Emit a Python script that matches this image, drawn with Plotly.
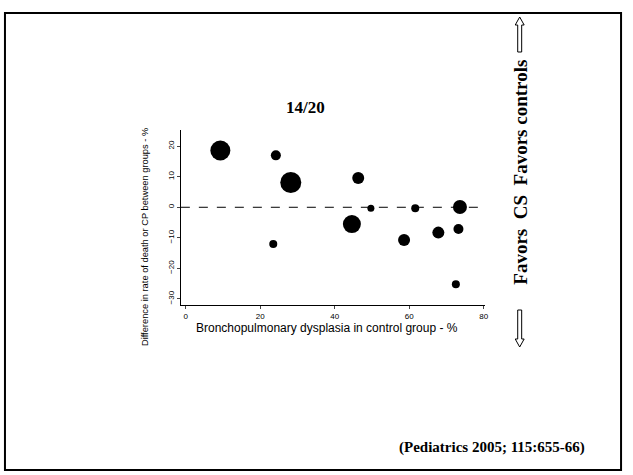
import plotly.graph_objects as go

# Data
bpd_control = [9.3, 24.2, 28.2, 46.3, 49.7, 61.6, 73.6, 44.6, 23.5, 58.6, 67.8, 73.2, 72.5]
diff_death_cp = [18.6, 17.0, 8.1, 9.6, -0.3, -0.3, 0.1, -5.5, -12.0, -10.7, -8.3, -7.1, -25.2]
study_weight = [20, 10, 21, 12, 7, 8, 14, 18, 8, 12, 12, 10, 8]

x_ticks = [0, 20, 40, 60, 80]
y_ticks = [-30, -20, -10, 0, 10, 20]

W, H = 633, 475
def px(x):
    return x / W
def py(y):
    return 1 - y / H

fig = go.Figure()
fig.add_trace(go.Scatter(
    x=bpd_control, y=diff_death_cp, mode="markers",
    marker=dict(size=study_weight, color="black", opacity=1, line=dict(width=0)),
    hoverinfo="x+y", showlegend=False,
))

fig.add_shape(type="line", xref="x domain", yref="y", x0=0, x1=1, y0=0, y1=0,
              line=dict(color="black", width=1, dash="dash"))

fig.update_layout(
    width=W, height=H,
    margin=dict(l=0, r=0, t=0, b=0),
    paper_bgcolor="white", plot_bgcolor="white",
    xaxis=dict(domain=[px(182), px(488)], range=[-1.3, 80.3],
               tickvals=x_ticks, ticks="outside", ticklen=3, showgrid=False,
               zeroline=False, showline=True, linecolor="black", linewidth=1,
               tickfont=dict(family="Liberation Sans", size=8, color="black"),
               anchor="y"),
    yaxis=dict(domain=[py(305), py(130)], range=[-32, 25.3],
               tickvals=y_ticks, ticks="outside", ticklen=3, showgrid=False,
               zeroline=False, showline=True, linecolor="black", linewidth=1,
               tickangle=-90,
               tickfont=dict(family="Liberation Sans", size=8, color="black"),
               anchor="x"),
    font=dict(family="Liberation Sans", color="black"),
)

# Page border
fig.add_shape(type="rect", xref="paper", yref="paper",
              x0=px(5), x1=px(625), y0=py(470), y1=py(13),
              line=dict(color="black", width=2))

def note(text, x, y, size, family, angle=0):
    fig.add_annotation(text=text, xref="paper", yref="paper",
                       x=px(x), y=py(y), xanchor="center", yanchor="middle",
                       showarrow=False, textangle=angle,
                       font=dict(family=family, size=size, color="black"))

# Title
note("<b>14/20</b>", 307, 108, 17, "Liberation Serif")

# Axis titles
note("Bronchopulmonary dysplasia in control group - %", 329, 328, 12, "Liberation Sans")
note("Difference in rate of death or CP between groups - %", 146, 237, 9.3,
     "Liberation Sans", angle=-90)

# Right side label
note("<b>Favors\u00a0\u00a0CS\u00a0\u00a0Favors controls</b>", 523, 172, 19,
     "Liberation Serif", angle=-90)

# Outline arrows (up at top, down at bottom)
def up_arrow(xc, ytip, ybase):
    pts = [(xc, ytip), (xc + 4.5, ytip + 8), (xc + 2, ytip + 8), (xc + 2, ybase),
           (xc - 2, ybase), (xc - 2, ytip + 8), (xc - 4.5, ytip + 8)]
    return "M " + " L ".join(f"{px(a)},{py(b)}" for a, b in pts) + " Z"

def down_arrow(xc, ytip, ybase):
    pts = [(xc, ytip), (xc + 4.5, ytip - 8), (xc + 2, ytip - 8), (xc + 2, ybase),
           (xc - 2, ybase), (xc - 2, ytip - 8), (xc - 4.5, ytip - 8)]
    return "M " + " L ".join(f"{px(a)},{py(b)}" for a, b in pts) + " Z"

fig.add_shape(type="path", xref="paper", yref="paper", path=up_arrow(523, 17, 52),
              line=dict(color="black", width=1))
fig.add_shape(type="path", xref="paper", yref="paper", path=down_arrow(523, 347, 310),
              line=dict(color="black", width=1))

# Citation
note("<b>(Pediatrics 2005; 115:655-66)</b>", 495, 447, 15, "Liberation Serif")

fig.write_html("out.html", config={"displayModeBar": False},
               post_script="document.body.style.margin='0';")
